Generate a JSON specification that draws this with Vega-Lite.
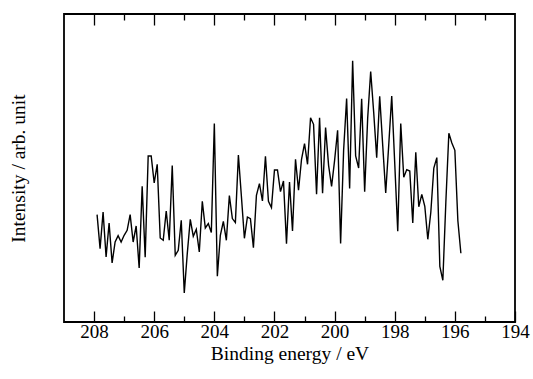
{
  "$schema": "https://vega.github.io/schema/vega-lite/v6.json",
  "width": 451,
  "height": 308,
  "autosize": "none",
  "padding": {"left": 64, "top": 14, "right": 18, "bottom": 57},
  "background": "white",
  "config": {
    "view": {"stroke": "black", "strokeWidth": 1.8},
    "font": "Liberation Serif",
    "axis": {"labelFont": "Liberation Serif", "titleFont": "Liberation Serif", "labelColor": "black", "titleColor": "black", "titleFontWeight": "normal", "domain": false, "grid": false}
  },
  "data": {"values": [
    {"energy": 207.9, "intensity": 107.4}, {"energy": 207.8, "intensity": 73.4}, {"energy": 207.7, "intensity": 110.0}, {"energy": 207.6, "intensity": 65.0},
    {"energy": 207.5, "intensity": 99.0}, {"energy": 207.4, "intensity": 59.0}, {"energy": 207.3, "intensity": 80.0}, {"energy": 207.2, "intensity": 86.4},
    {"energy": 207.1, "intensity": 80.0}, {"energy": 207.0, "intensity": 86.7}, {"energy": 206.9, "intensity": 91.7}, {"energy": 206.8, "intensity": 107.4},
    {"energy": 206.7, "intensity": 80.0}, {"energy": 206.6, "intensity": 96.0}, {"energy": 206.5, "intensity": 54.0}, {"energy": 206.4, "intensity": 135.7},
    {"energy": 206.3, "intensity": 64.7}, {"energy": 206.2, "intensity": 166.0}, {"energy": 206.1, "intensity": 166.0}, {"energy": 206.0, "intensity": 139.0},
    {"energy": 205.9, "intensity": 157.7}, {"energy": 205.8, "intensity": 84.0}, {"energy": 205.7, "intensity": 81.7}, {"energy": 205.6, "intensity": 111.0},
    {"energy": 205.5, "intensity": 81.7}, {"energy": 205.4, "intensity": 156.4}, {"energy": 205.3, "intensity": 66.7}, {"energy": 205.2, "intensity": 71.7},
    {"energy": 205.1, "intensity": 101.7}, {"energy": 205.0, "intensity": 29.0}, {"energy": 204.9, "intensity": 68.4}, {"energy": 204.8, "intensity": 102.7},
    {"energy": 204.7, "intensity": 85.7}, {"energy": 204.6, "intensity": 92.7}, {"energy": 204.5, "intensity": 70.0}, {"energy": 204.4, "intensity": 120.7},
    {"energy": 204.3, "intensity": 94.0}, {"energy": 204.2, "intensity": 98.4}, {"energy": 204.1, "intensity": 89.4}, {"energy": 204.0, "intensity": 198.4},
    {"energy": 203.9, "intensity": 45.7}, {"energy": 203.8, "intensity": 86.7}, {"energy": 203.7, "intensity": 100.7}, {"energy": 203.6, "intensity": 81.7},
    {"energy": 203.5, "intensity": 126.4}, {"energy": 203.4, "intensity": 103.4}, {"energy": 203.3, "intensity": 99.4}, {"energy": 203.2, "intensity": 167.0},
    {"energy": 203.1, "intensity": 125.7}, {"energy": 203.0, "intensity": 83.7}, {"energy": 202.9, "intensity": 105.0}, {"energy": 202.8, "intensity": 103.4},
    {"energy": 202.7, "intensity": 74.4}, {"energy": 202.6, "intensity": 126.7}, {"energy": 202.5, "intensity": 138.4}, {"energy": 202.4, "intensity": 121.0},
    {"energy": 202.3, "intensity": 165.7}, {"energy": 202.2, "intensity": 120.7}, {"energy": 202.1, "intensity": 114.4}, {"energy": 202.0, "intensity": 152.0},
    {"energy": 201.9, "intensity": 152.0}, {"energy": 201.8, "intensity": 130.4}, {"energy": 201.7, "intensity": 141.0}, {"energy": 201.6, "intensity": 78.4},
    {"energy": 201.5, "intensity": 140.0}, {"energy": 201.4, "intensity": 91.0}, {"energy": 201.3, "intensity": 162.7}, {"energy": 201.2, "intensity": 131.7},
    {"energy": 201.1, "intensity": 162.7}, {"energy": 201.0, "intensity": 178.4}, {"energy": 200.9, "intensity": 157.7}, {"energy": 200.8, "intensity": 204.2},
    {"energy": 200.7, "intensity": 197.7}, {"energy": 200.6, "intensity": 127.7}, {"energy": 200.5, "intensity": 204.2}, {"energy": 200.4, "intensity": 128.7},
    {"energy": 200.3, "intensity": 194.4}, {"energy": 200.2, "intensity": 156.7}, {"energy": 200.1, "intensity": 135.7}, {"energy": 200.0, "intensity": 161.7},
    {"energy": 199.9, "intensity": 191.7}, {"energy": 199.8, "intensity": 78.4}, {"energy": 199.7, "intensity": 171.7}, {"energy": 199.6, "intensity": 223.4},
    {"energy": 199.5, "intensity": 133.4}, {"energy": 199.4, "intensity": 261.2}, {"energy": 199.3, "intensity": 166.2}, {"energy": 199.2, "intensity": 154.0},
    {"energy": 199.1, "intensity": 223.2}, {"energy": 199.0, "intensity": 130.2}, {"energy": 198.9, "intensity": 203.7}, {"energy": 198.8, "intensity": 250.5},
    {"energy": 198.7, "intensity": 209.7}, {"energy": 198.6, "intensity": 164.4}, {"energy": 198.5, "intensity": 225.7}, {"energy": 198.4, "intensity": 176.7},
    {"energy": 198.3, "intensity": 129.0}, {"energy": 198.2, "intensity": 176.7}, {"energy": 198.1, "intensity": 225.9}, {"energy": 198.0, "intensity": 158.7},
    {"energy": 197.9, "intensity": 90.7}, {"energy": 197.8, "intensity": 198.4}, {"energy": 197.7, "intensity": 144.7}, {"energy": 197.6, "intensity": 152.4},
    {"energy": 197.5, "intensity": 151.0}, {"energy": 197.4, "intensity": 99.0}, {"energy": 197.3, "intensity": 169.7}, {"energy": 197.2, "intensity": 115.2},
    {"energy": 197.1, "intensity": 127.7}, {"energy": 197.0, "intensity": 115.7}, {"energy": 196.9, "intensity": 82.7}, {"energy": 196.8, "intensity": 109.7},
    {"energy": 196.7, "intensity": 154.0}, {"energy": 196.6, "intensity": 164.4}, {"energy": 196.5, "intensity": 55.7}, {"energy": 196.4, "intensity": 41.7},
    {"energy": 196.3, "intensity": 119.7}, {"energy": 196.2, "intensity": 188.7}, {"energy": 196.1, "intensity": 179.0}, {"energy": 196.0, "intensity": 171.7},
    {"energy": 195.9, "intensity": 101.2}, {"energy": 195.8, "intensity": 68.7}
  ]},
  "resolve": {"axis": {"x": "independent"}},
  "layer": [
    {
      "mark": {"type": "line", "color": "black", "strokeWidth": 1.4, "strokeJoin": "miter"},
      "encoding": {
        "x": {
          "field": "energy", "type": "quantitative",
          "scale": {"domain": [209, 194], "nice": false, "zero": false},
          "axis": {
            "orient": "bottom",
            "title": "Binding energy / eV",
            "titleFontSize": 19.5,
            "titlePadding": -2,
            "labelFontSize": 19,
            "values": [208, 207, 206, 205, 204, 203, 202, 201, 200, 199, 198, 197, 196, 195, 194],
            "labelExpr": "datum.value % 2 === 0 ? datum.label : ''",
            "tickColor": "black",
            "tickWidth": 1.3,
            "tickSize": {"condition": {"test": "datum.value % 2 === 0", "value": -11}, "value": -6},
            "labelPadding": 11,
            "labelFlush": false,
            "labelOverlap": false
          }
        },
        "y": {
          "field": "intensity", "type": "quantitative",
          "scale": {"domain": [0, 308], "nice": false, "zero": false},
          "axis": {
            "title": "Intensity / arb. unit",
            "titleFontSize": 19.5,
            "labels": false,
            "ticks": false,
            "titlePadding": 36
          }
        }
      }
    },
    {
      "mark": {"type": "line", "opacity": 0},
      "encoding": {
        "x": {
          "field": "energy", "type": "quantitative",
          "axis": {
            "orient": "top",
            "title": null,
            "labels": false,
            "values": [208, 207, 206, 205, 204, 203, 202, 201, 200, 199, 198, 197, 196, 195],
            "tickColor": "black",
            "tickWidth": 1.3,
            "tickSize": {"condition": {"test": "datum.value % 2 === 0", "value": -11}, "value": -6}
          }
        },
        "y": {"field": "intensity", "type": "quantitative"}
      }
    }
  ]
}
